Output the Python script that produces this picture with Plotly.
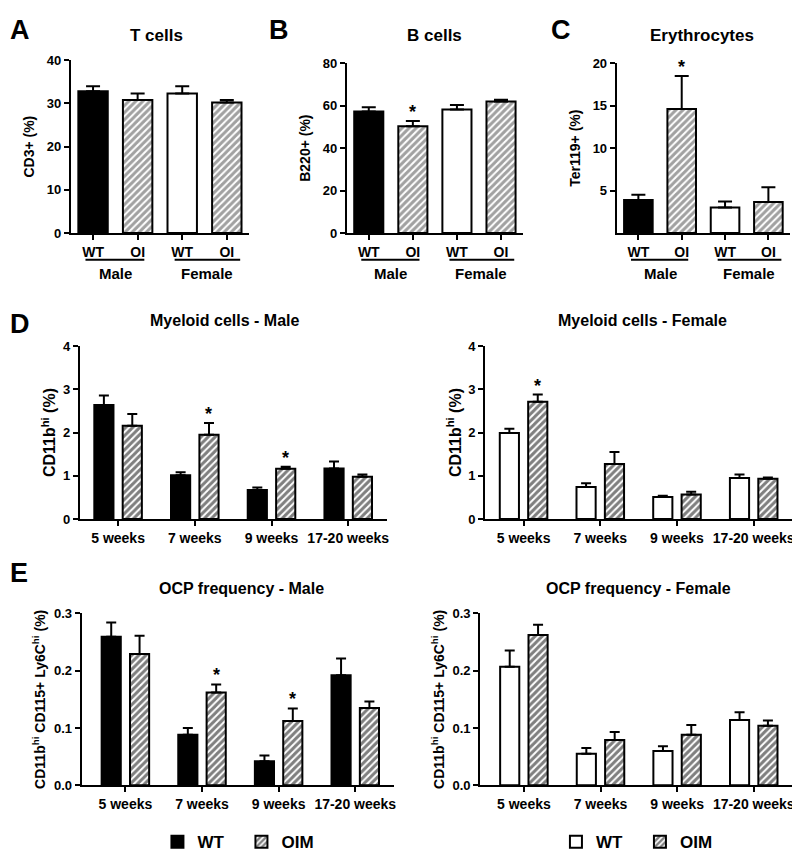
import plotly.graph_objects as go

W, H = 800, 857

# ---------------- data ----------------
groups_abc = ["WT", "OI", "WT", "OI"]
sex_labels = ["Male", "Female"]
weeks = ["5 weeks", "7 weeks", "9 weeks", "17-20 weeks"]

tcell_mean = [32.8, 30.8, 32.3, 30.2]
tcell_err = [1.2, 1.5, 1.7, 0.6]
tcell_sig = [False, False, False, False]

bcell_mean = [57.2, 50.3, 58.2, 62.0]
bcell_err = [2.0, 2.5, 2.1, 0.8]
bcell_sig = [False, True, False, False]

ery_mean = [3.9, 14.6, 3.0, 3.65]
ery_err = [0.6, 3.9, 0.73, 1.75]
ery_sig = [False, True, False, False]

mye_male_wt = [2.64, 1.01, 0.67, 1.17]
mye_male_wt_err = [0.22, 0.07, 0.06, 0.16]
mye_male_oim = [2.16, 1.95, 1.16, 0.98]
mye_male_oim_err = [0.27, 0.27, 0.05, 0.05]
mye_male_sig = [False, True, True, False]

mye_female_wt = [1.99, 0.74, 0.51, 0.95]
mye_female_wt_err = [0.10, 0.09, 0.03, 0.08]
mye_female_oim = [2.71, 1.27, 0.57, 0.93]
mye_female_oim_err = [0.17, 0.28, 0.06, 0.03]
mye_female_sig = [True, False, False, False]

ocp_male_wt = [0.259, 0.088, 0.042, 0.192]
ocp_male_wt_err = [0.025, 0.012, 0.010, 0.029]
ocp_male_oim = [0.229, 0.162, 0.112, 0.135]
ocp_male_oim_err = [0.032, 0.014, 0.022, 0.011]
ocp_male_sig = [False, True, True, False]

ocp_female_wt = [0.207, 0.055, 0.060, 0.114]
ocp_female_wt_err = [0.028, 0.010, 0.008, 0.0135]
ocp_female_oim = [0.262, 0.079, 0.088, 0.104]
ocp_female_oim_err = [0.018, 0.014, 0.017, 0.009]
ocp_female_sig = [False, False, False, False]

# ---------------- style ----------------
FONT = "Liberation Sans, Arial, Helvetica, sans-serif"
LW = 2
PAGE_OFF = 8  # page body margin in the browser
HATCH = dict(shape="/", fgcolor="black", size=5, solidity=0.6, fillmode="overlay")


def px_x(x):
    return (x - PAGE_OFF) / W


def px_y(y):
    return 1 - (y - PAGE_OFF) / H


fig = go.Figure()
annotations = []
shapes = []


def setup_axes(idx, xpx, ypx, xrange, yrange, ytickvals, yticktext, ytitle, ytitle_size,
               xtickvals, xticktext, xtick_size, standoff):
    xa = "xaxis" if idx == 1 else f"xaxis{idx}"
    ya = "yaxis" if idx == 1 else f"yaxis{idx}"
    yid = "y" if idx == 1 else f"y{idx}"
    xid = "x" if idx == 1 else f"x{idx}"
    fig.layout[xa] = dict(
        domain=[px_x(xpx[0]), px_x(xpx[1])], range=xrange, anchor=yid,
        showline=True, linecolor="black", linewidth=LW, showgrid=False, zeroline=False,
        ticks="outside", ticklen=5, tickwidth=LW, tickcolor="black",
        tickvals=xtickvals, ticktext=xticktext, ticklabeloverflow="allow",
        tickfont=dict(family=FONT, size=xtick_size, color="black", weight="bold"),
        fixedrange=True,
    )
    fig.layout[ya] = dict(
        domain=[px_y(ypx[1]), px_y(ypx[0])], range=yrange, anchor=xid,
        showline=True, linecolor="black", linewidth=LW, showgrid=False, zeroline=False,
        ticks="outside", ticklen=5, tickwidth=LW, tickcolor="black",
        tickvals=ytickvals, ticktext=yticktext,
        tickfont=dict(family=FONT, size=13, color="black", weight="bold"),
        title=dict(text=ytitle, standoff=standoff,
                   font=dict(family=FONT, size=ytitle_size, color="black", weight="bold")),
        fixedrange=True,
    )
    return xid, yid


def add_title(text, xc, yc, size=16):
    annotations.append(dict(text=f"<b>{text}</b>", x=px_x(xc), y=px_y(yc), xref="paper", yref="paper",
                            showarrow=False, xanchor="center", yanchor="middle",
                            font=dict(family=FONT, size=size, color="black")))


def add_letter(text, xl, yc):
    annotations.append(dict(text=f"<b>{text}</b>", x=px_x(xl), y=px_y(yc), xref="paper", yref="paper",
                            showarrow=False, xanchor="left", yanchor="middle",
                            font=dict(family=FONT, size=27, color="black")))


def add_star(xid, yid, x, y):
    annotations.append(dict(text="<b>*</b>", x=x, y=y, xref=xid, yref=yid, showarrow=False,
                            xanchor="center", yanchor="bottom", yshift=-3,
                            font=dict(family=FONT, size=18, color="black")))


# ---------- panels A-C ----------
abc_panels = [
    dict(idx=1, mean=tcell_mean, err=tcell_err, sig=tcell_sig, xpx=(71, 250), ypx=(54, 230),
         yrange=[0, 40], ytv=[0, 10, 20, 30, 40], ytitle="CD3+ (%)", title="T cells", tx=157, letter="A",
         lx=8),
    dict(idx=2, mean=bcell_mean, err=bcell_err, sig=bcell_sig, xpx=(348, 525), ypx=(57, 230),
         yrange=[0, 80], ytv=[0, 20, 40, 60, 80], ytitle="B220+ (%)", title="B cells", tx=436, letter="B",
         lx=268),
    dict(idx=3, mean=ery_mean, err=ery_err, sig=ery_sig, xpx=(619, 793), ypx=(57, 230),
         yrange=[0, 20], ytv=[5, 10, 15, 20], ytitle="Ter119+ (%)", title="Erythrocytes", tx=705, letter="C",
         lx=551),
]

abc_colors = ["black", "white", "white", "white"]
abc_shapes = ["", "/", "", "/"]

for p in abc_panels:
    xid, yid = setup_axes(p["idx"], p["xpx"], p["ypx"], [-0.5, 3.5], p["yrange"], p["ytv"],
                          [str(v) for v in p["ytv"]], p["ytitle"], 14, [0, 1, 2, 3], groups_abc, 14, 9)
    xs = list(range(len(groups_abc)))
    fig.add_trace(go.Bar(
        x=xs, y=p["mean"], width=0.66, xaxis=xid, yaxis=yid, showlegend=False,
        marker=dict(color=abc_colors, line=dict(color="black", width=LW),
                    pattern=dict(shape=abc_shapes, fgcolor="black", size=5, solidity=0.6, fillmode="overlay")),
        error_y=dict(type="data", symmetric=False, array=p["err"], arrayminus=[0] * 4,
                     color="black", thickness=LW, width=7),
    ))
    for i, s in enumerate(p["sig"]):
        if s:
            add_star(xid, yid, xs[i], p["mean"][i] + p["err"][i])
    add_title(p["title"], p["tx"], 29, size=17)
    add_letter(p["letter"], p["lx"], 23)
    # group lines and sex labels
    for k, (a, b) in enumerate([(-0.17, 1.15), (1.83, 3.3)]):
        shapes.append(dict(type="line", xref=xid, yref="paper", x0=a, x1=b,
                           y0=px_y(257), y1=px_y(257), line=dict(color="black", width=LW)))
        annotations.append(dict(text=f"<b>{sex_labels[k]}</b>", x=(0.5 if k == 0 else 2.55), y=px_y(271),
                                xref=xid, yref="paper", showarrow=False, xanchor="center", yanchor="middle",
                                font=dict(family=FONT, size=15, color="black")))

# ---------- panels D-E ----------
WT_OFF, OIM_OFF, BW = -0.31, 0.06, 0.25

de_panels = [
    dict(idx=4, wt=mye_male_wt, wte=mye_male_wt_err, oim=mye_male_oim, oime=mye_male_oim_err,
         sig=mye_male_sig, xpx=(80, 388), xr=[-0.5, 3.5], ypx=(345, 521), yrange=[0, 4],
         ytv=[0, 1, 2, 3, 4], ytt=["0", "1", "2", "3", "4"], ytitle="CD11b<sup>hi</sup> (%)", ts=16, so=3,
         title="Myeloid cells - Male", tx=225, ty=319, wtcolor="black", legend="legend"),
    dict(idx=5, wt=mye_female_wt, wte=mye_female_wt_err, oim=mye_female_oim, oime=mye_female_oim_err,
         sig=mye_female_sig, xpx=(487, 795), xr=[-0.5, 3.5], ypx=(345, 521), yrange=[0, 4],
         ytv=[0, 1, 2, 3, 4], ytt=["0", "1", "2", "3", "4"], ytitle="CD11b<sup>hi</sup> (%)", ts=16, so=3,
         title="Myeloid cells - Female", tx=645, ty=319, wtcolor="white", legend="legend2"),
    dict(idx=6, wt=ocp_male_wt, wte=ocp_male_wt_err, oim=ocp_male_oim, oime=ocp_male_oim_err,
         sig=ocp_male_sig, xpx=(82, 395), xr=[-0.57, 3.5], ypx=(617, 792), yrange=[0, 0.3],
         ytv=[0, 0.1, 0.2, 0.3], ytt=["0.0", "0.1", "0.2", "0.3"],
         ytitle="CD11b<sup>hi</sup> CD115+ Ly6C<sup>hi</sup> (%)", ts=14, so=5,
         title="OCP frequency - Male", tx=242, ty=592, wtcolor="black", legend=None),
    dict(idx=7, wt=ocp_female_wt, wte=ocp_female_wt_err, oim=ocp_female_oim, oime=ocp_female_oim_err,
         sig=ocp_female_sig, xpx=(482, 795), xr=[-0.57, 3.5], ypx=(617, 792), yrange=[0, 0.3],
         ytv=[0, 0.1, 0.2, 0.3], ytt=["0.0", "0.1", "0.2", "0.3"],
         ytitle="CD11b<sup>hi</sup> CD115+ Ly6C<sup>hi</sup> (%)", ts=14, so=5,
         title="OCP frequency - Female", tx=641, ty=592, wtcolor="white", legend=None),
]

for p in de_panels:
    xid, yid = setup_axes(p["idx"], p["xpx"], p["ypx"], p["xr"], p["yrange"], p["ytv"], p["ytt"],
                          p["ytitle"], p["ts"], [0, 1, 2, 3], weeks, 14, p["so"])
    xs = list(range(len(weeks)))
    show = p["legend"] is not None
    fig.add_trace(go.Bar(
        x=xs, y=p["wt"], width=BW, offset=WT_OFF, xaxis=xid, yaxis=yid, name="WT",
        showlegend=show, legend=p["legend"] or "legend",
        marker=dict(color=p["wtcolor"], line=dict(color="black", width=LW)),
        error_y=dict(type="data", symmetric=False, array=p["wte"], arrayminus=[0] * 4,
                     color="black", thickness=LW, width=5),
    ))
    fig.add_trace(go.Bar(
        x=xs, y=p["oim"], width=BW, offset=OIM_OFF, xaxis=xid, yaxis=yid, name="OIM",
        showlegend=show, legend=p["legend"] or "legend",
        marker=dict(color="white", line=dict(color="black", width=LW), pattern=HATCH),
        error_y=dict(type="data", symmetric=False, array=p["oime"], arrayminus=[0] * 4,
                     color="black", thickness=LW, width=5),
    ))
    for i, s in enumerate(p["sig"]):
        if s:
            add_star(xid, yid, xs[i] + OIM_OFF + BW / 2, p["oim"][i] + p["oime"][i])
    add_title(p["title"], p["tx"], p["ty"], size=16)

add_letter("D", 8, 323)
add_letter("E", 8, 576)

LEG_FONT = dict(family=FONT, size=17, color="black", weight="bold")
fig.update_layout(
    width=W, height=H, margin=dict(l=0, r=0, t=0, b=0),
    paper_bgcolor="white", plot_bgcolor="white",
    barmode="overlay",
    font=dict(family=FONT, color="black"),
    annotations=annotations, shapes=shapes,
    legend=dict(orientation="h", x=px_x(158), y=px_y(850), xanchor="left", yanchor="middle",
                font=LEG_FONT, bgcolor="rgba(0,0,0,0)", itemwidth=30, entrywidth=39,
                traceorder="normal"),
    legend2=dict(orientation="h", x=px_x(558), y=px_y(850), xanchor="left", yanchor="middle",
                 font=LEG_FONT, bgcolor="rgba(0,0,0,0)", itemwidth=30, entrywidth=39,
                 traceorder="normal"),
)

fig.write_html("out.html")
